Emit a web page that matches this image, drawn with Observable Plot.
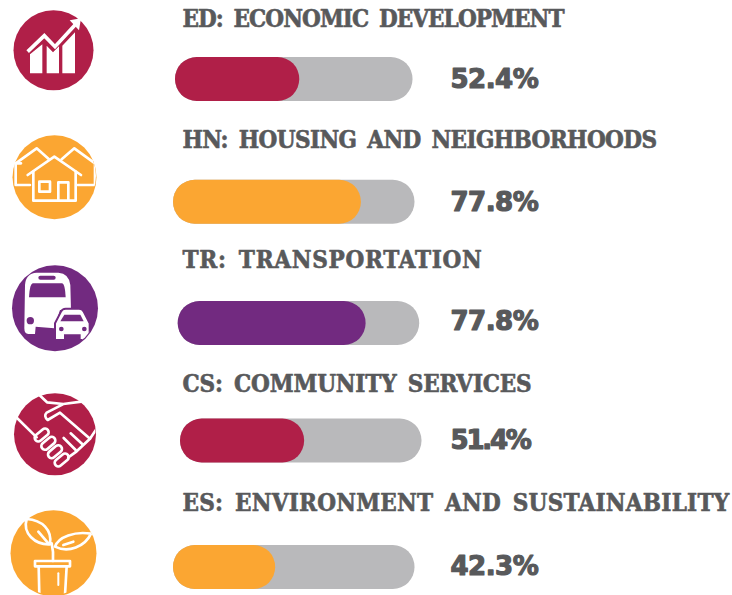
<!DOCTYPE html>
<html>
<head>
<meta charset="utf-8">
<script src="https://cdn.jsdelivr.net/npm/d3@7"></script>
<script src="https://cdn.jsdelivr.net/npm/@observablehq/plot@0.6"></script>
<style>
html,body{margin:0;padding:0;background:#fff;}
</style>
</head>
<body>
<div id="chart"></div>
<script>
const codes = ["ED","HN","TR","CS","ES"];
const titles = ["ED: ECONOMIC DEVELOPMENT","HN: HOUSING AND NEIGHBORHOODS","TR: TRANSPORTATION","CS: COMMUNITY SERVICES","ES: ENVIRONMENT AND SUSTAINABILITY"];
const percents = [52.4,77.8,77.8,51.4,42.3];
const colors = ["#B01F48","#FBA632","#722A80","#B01F48","#FBA632"];

const TRACK = "#B9B9BB", INK = "#58595B";
const SLAB = "'DejaVu Serif Condensed','DejaVu Serif',serif";

// Per-row layout nudges (the reference rows are hand placed, not on a grid)
const layout = [
  {dx:2,   dy:0,    trackInset:4, fillInset:2.3, titleDy:-60,  titleTrack:-0.92, pctDy:0,   pctTrack:-0.5, disc:[53,49,40],   origin:[5,5]},
  {dx:0,   dy:0.75, trackInset:0, fillInset:0,   titleDy:-61.5,titleTrack:-0.62, pctDy:1.5, pctTrack:-0.5, disc:[54,176,42],  origin:[5,130]},
  {dx:4.7, dy:0,    trackInset:0, fillInset:0,   titleDy:-63.5,titleTrack:0.72,  pctDy:-2,  pctTrack:-0.5, disc:[54.5,307,43],origin:[5,260]},
  {dx:7,   dy:-4.5, trackInset:0, fillInset:0,   titleDy:-61.5,titleTrack:-0.18, pctDy:-5,  pctTrack:-2.2, disc:[54.5,433,41],origin:[5,388]},
  {dx:0,   dy:0,    trackInset:0, fillInset:0,   titleDy:-64.5,titleTrack:0.24,  pctDy:-1,  pctTrack:-0.5, disc:[53,552,43],  origin:[5,505]}
];

// Icon drawings, in 3x local units
const L = 'fill="none" stroke="#fff" stroke-width="8" stroke-linejoin="round" stroke-linecap="round"';
const capsule = (x, y) => `<rect x="${x - 24}" y="${y - 11}" width="48" height="22" rx="11" transform="rotate(-40 ${x} ${y})"/>`;
const icons = [
`<path fill="#fff" d="M75,148 L112,118 L112,205 L75,205Z M125,122 L144,142 L162,124 L162,205 L125,205Z M172,122 L210,82 L210,205 L172,205Z"/>
 <path d="M68,140 L118,92 L150,125 L212,58" fill="none" stroke="#fff" stroke-width="11"/>
 <path fill="#fff" d="M228,40 L194,46 L222,76Z"/>`,
`<g ${L}>
 <path d="M48,100 L32,100 L32,165 L75,165 M32,100 L95,55 L132,88"/>
 <path d="M170,88 L208,55 L270,100 L270,165 L218,165"/>
 <path d="M68,135 L148,80 L228,135"/>
 <path d="M85,125 L85,212 L212,212 L212,125"/>
 <rect x="103" y="155" width="32" height="30"/>
 <path d="M160,212 L160,157 L190,157 L190,212"/></g>`,
`<path fill="#fff" d="M60,75 Q62,40 95,38 L160,38 Q192,40 196,75 L198,150 L165,150 L148,205 L92,200 L90,222 L70,222 Q58,222 58,205Z"/>
 <path fill="#722A80" d="M83,70 L172,70 Q180,72 182,112 L72,112 Q74,72 83,70Z"/>
 <rect x="100" y="47" width="52" height="12" rx="6" fill="#722A80"/>
 <circle cx="76" cy="182" r="11" fill="#722A80"/>
 <path fill="#fff" stroke="#722A80" stroke-width="6" d="M150,240 L150,190 L168,155 Q172,146 182,146 L222,146 Q232,146 236,155 L254,190 L254,240 L224,240 L224,226 L180,226 L180,240Z"/>
 <path fill="#722A80" d="M178,164 L226,164 L236,184 L166,184Z"/>
 <circle cx="169" cy="207" r="7" fill="#722A80"/>
 <circle cx="238" cy="207" r="7" fill="#722A80"/>`,
`<g ${L}>
 <path d="M100,18 L126,43 L175,48 L235,40"/>
 <path d="M172,50 L125,74 Q115,84 128,96 L165,74 L255,152"/>
 <path d="M30,84 L95,148"/>
 <path d="M275,122 L255,152 L215,190 L190,208"/>
 <path d="M176,150 L212,186"/>
 <path d="M197,136 L234,170"/>
 ${capsule(110,141)}${capsule(130,166)}${capsule(150,191)}${capsule(170,216)}
 </g>`,
`<g ${L}>
 <path d="M135,118 C90,120 52,85 65,42 C112,45 142,75 135,118Z"/>
 <path d="M100,80 L130,115"/>
 <path d="M150,125 C160,95 210,78 258,86 C240,125 190,145 150,125Z"/>
 <path d="M175,120 L205,110"/>
 <path d="M140,115 Q146,140 144,168"/>
 <rect x="90" y="168" width="105" height="16"/>
 <path d="M101,184 L103,270 M185,184 L180,270"/>
 <path d="M160,205 L160,240" stroke-width="6"/></g>`
];

const rows = codes.map((code, i) => ({code, title: titles[i], value: percents[i], label: percents[i].toFixed(1) + "%", color: colors[i], i}));

const rowMarks = rows.flatMap((row, i) => {
  const a = layout[i];
  const data = [row];
  return [
    Plot.barX(data, {x1: () => 0, x2: () => 100, y: "code", fill: TRACK, rx: 21.75, dx: a.dx, dy: a.dy, insetRight: a.trackInset}),
    Plot.barX(data, {x1: () => 0, x2: "value", y: "code", fill: "color", rx: 21.75, dx: a.dx, dy: a.dy, insetRight: a.fillInset}),
    Plot.text(data, {text: "title", y: "code", frameAnchor: "left", textAnchor: "start", dx: 182, dy: a.titleDy, fill: INK, stroke: INK, strokeWidth: 0.6, fontFamily: SLAB, fontWeight: 700, fontSize: 24}),
    Plot.text(data, {text: "label", y: "code", frameAnchor: "left", textAnchor: "start", dx: 450, dy: a.pctDy, fill: INK, stroke: INK, strokeWidth: 1.2, fontFamily: "'DejaVu Sans',sans-serif", fontWeight: 700, fontSize: 26}),
    Plot.dot(data, {y: "code", frameAnchor: "left", dx: a.disc[0], dy: a.disc[1] - (78.25 + 122 * i), r: a.disc[2], fill: "color"})
  ];
});

function iconMark() {
  const g = d3.create("svg:g").attr("aria-label", "icons");
  icons.forEach((markup, i) => {
    const a = layout[i], [cx, cy, r] = a.disc, [ox, oy] = a.origin;
    const id = "clip-icon-" + i;
    g.append("clipPath").attr("id", id).append("circle").attr("cx", cx).attr("cy", cy).attr("r", r);
    g.append("g").attr("clip-path", `url(#${id})`)
      .append("g").attr("transform", `translate(${ox},${oy}) scale(${1/3})`).html(markup);
  });
  return g.node();
}

const chart = Plot.plot({
  width: 732, height: 595,
  marginTop: 0, marginRight: 0, marginBottom: 0, marginLeft: 0,
  x: {domain: [0, 100], range: [173, 414.5], axis: null},
  y: {domain: codes, range: [56.5, 588], paddingInner: 1 - 43.5 / 122, paddingOuter: 0, axis: null},
  marks: [...rowMarks, iconMark]
});
// Each row's lettering has its own tracking in the reference; text marks come in title/percent pairs
d3.select(chart).selectAll('g[aria-label="text"]').each(function(_, k) {
  const a = layout[Math.floor(k / 2)];
  const sel = d3.select(this);
  if (k % 2 === 0) sel.style("letter-spacing", a.titleTrack + "px").style("word-spacing", "4px");
  else sel.style("letter-spacing", a.pctTrack + "px");
});
document.getElementById("chart").appendChild(chart);
</script>
</body>
</html>
